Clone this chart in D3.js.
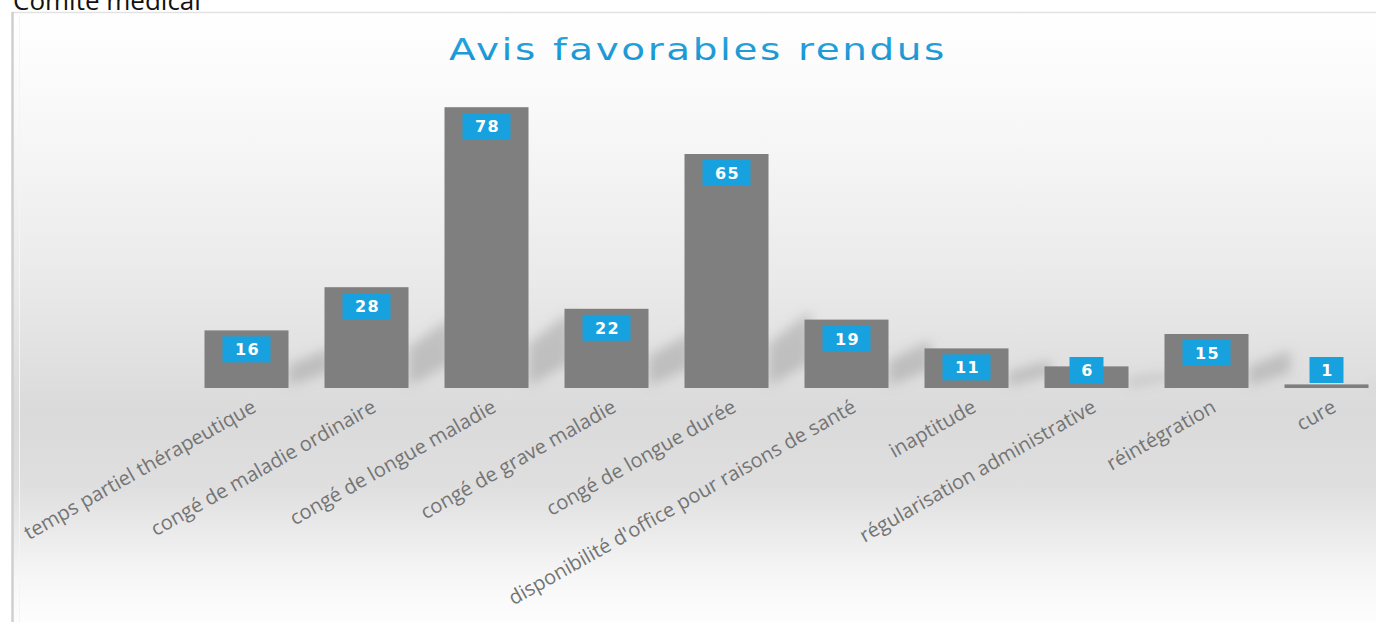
<!DOCTYPE html>
<html lang="fr">
<head>
<meta charset="utf-8">
<script src="https://cdn.jsdelivr.net/npm/d3@7"></script>
<style>
  html, body { margin: 0; padding: 0; background: #ffffff; }
  svg { display: block; }
</style>
</head>
<body>
<div id="chart"></div>
<script>
// Avis favorables rendus par catégorie
const categories = [
  "temps partiel thérapeutique",
  "congé de maladie ordinaire",
  "congé de longue maladie",
  "congé de grave maladie",
  "congé de longue durée",
  "disponibilité d'office pour raisons de santé",
  "inaptitude",
  "régularisation administrative",
  "réintégration",
  "cure"
];
const values = [16, 28, 78, 22, 65, 19, 11, 6, 15, 1];

const pageTitle = "Comité médical";
const chartTitle = "Avis favorables rendus";

const W = 1376, H = 630;
const svg = d3.select("#chart").append("svg")
  .attr("width", W).attr("height", H);

const defs = svg.append("defs");

// vertical background shading of the chart area
const bg = defs.append("linearGradient")
  .attr("id", "bgGrad").attr("x1", 0).attr("y1", 0).attr("x2", 0).attr("y2", 1);
[[0, "#ffffff"], [0.2, "#f7f7f7"], [0.45, "#e9e9e9"], [0.66, "#dadada"],
 [0.78, "#dfdfdf"], [0.93, "#f7f7f7"], [1, "#fdfdfd"]]
  .forEach(([o, c]) => bg.append("stop").attr("offset", o).attr("stop-color", c));

const titleGrad = defs.append("linearGradient")
  .attr("id", "titleGrad").attr("x1", 0).attr("y1", 0).attr("x2", 0).attr("y2", 1);
titleGrad.append("stop").attr("offset", 0).attr("stop-color", "#2aa8e4");
titleGrad.append("stop").attr("offset", 1).attr("stop-color", "#1690cc");

defs.append("filter").attr("id", "soft")
  .attr("x", "-50%").attr("y", "-50%").attr("width", "200%").attr("height", "200%")
  .append("feGaussianBlur").attr("stdDeviation", 6);

// page heading, partly above the top edge
svg.append("text")
  .attr("x", 13).attr("y", 10)
  .attr("font-family", "'Open Sans', sans-serif")
  .attr("font-size", 26)
  .attr("fill", "#111")
  .text(pageTitle);

// chart frame
const frame = { x: 12, y: 12, w: W - 12 + 10, h: 610 };
svg.append("rect")
  .attr("x", frame.x).attr("y", frame.y)
  .attr("width", frame.w).attr("height", frame.h)
  .attr("fill", "url(#bgGrad)");
svg.append("line")
  .attr("x1", frame.x).attr("x2", W).attr("y1", frame.y + 0.5).attr("y2", frame.y + 0.5)
  .attr("stroke", "#e2e2e2").attr("stroke-width", 1.5);
svg.append("line")
  .attr("x1", frame.x + 0.5).attr("x2", frame.x + 0.5).attr("y1", frame.y).attr("y2", frame.y + frame.h)
  .attr("stroke", "#cfcfcf").attr("stroke-width", 2.5);
svg.append("line")
  .attr("x1", 19.5).attr("x2", 19.5).attr("y1", frame.y + 4).attr("y2", frame.y + frame.h)
  .attr("stroke", "#f4f4f4").attr("stroke-width", 1);

// chart title
svg.append("text")
  .attr("x", 698).attr("y", 60)
  .attr("text-anchor", "middle")
  .attr("font-family", "'DejaVu Sans', Verdana, sans-serif")
  .attr("font-size", 30)
  .attr("letter-spacing", 2)
  .attr("textLength", 498)
  .attr("lengthAdjust", "spacingAndGlyphs")
  .attr("fill", "url(#titleGrad)")
  .text(chartTitle);

// scales
const base = 388;
const x = d3.scaleBand()
  .domain(categories)
  .range([186.5, 1386.5])
  .paddingInner(0.3)
  .paddingOuter(0.15);
const y = d3.scaleLinear().domain([0, 80]).range([base, base - 288]);

const data = categories.map((c, i) => ({ cat: c, v: values[i] }));

// soft cast shadows to the right of each bar
const shadowG = svg.append("g").attr("filter", "url(#soft)");
shadowG.selectAll("path").data(data).join("path")
  .attr("d", d => {
    const x1 = x(d.cat) + x.bandwidth();
    const h = base - y(d.v);
    const s = Math.min(h, 110) * 0.4;
    const rise = Math.min(h, 110) * 0.3;
    return `M${x1},${base - 2} L${x1},${base - s} L${x1 + 42},${base - s - rise} L${x1 + 42},${base - 6 - rise * 0.6} Z`;
  })
  .attr("fill", "#7a7a7a")
  .attr("opacity", 0.33);

// bars
svg.append("g").selectAll("rect").data(data).join("rect")
  .attr("x", d => x(d.cat))
  .attr("y", d => y(d.v))
  .attr("width", x.bandwidth())
  .attr("height", d => base - y(d.v))
  .attr("fill", "#7f7f7f");

// category axis
const axis = svg.append("g")
  .attr("transform", `translate(0,${base})`)
  .call(d3.axisBottom(x).tickSize(0).tickPadding(0));
axis.select(".domain").remove();
axis.selectAll(".tick text")
  .attr("x", 0).attr("y", 0).attr("dy", 0)
  .attr("text-anchor", "end")
  .attr("transform", "translate(11,23) rotate(-29.5)")
  .attr("font-family", "'Open Sans', sans-serif")
  .attr("font-size", 20)
  .attr("fill", "#747474");

// value labels in blue boxes
const boxH = 26;
const labels = svg.append("g").selectAll("g").data(data).join("g")
  .attr("transform", d => {
    const cx = x(d.cat) + x.bandwidth() / 2;
    const top = Math.min(y(d.v) + 6, base - 5 - boxH);
    return `translate(${cx},${top})`;
  });
labels.append("rect")
  .attr("x", d => -(String(d.v).length > 1 ? 24 : 17))
  .attr("width", d => String(d.v).length > 1 ? 48 : 34)
  .attr("height", boxH)
  .attr("fill", "#17a2df");
labels.append("text")
  .attr("x", 1).attr("y", boxH / 2 + 6)
  .attr("text-anchor", "middle")
  .attr("font-family", "'DejaVu Sans', Verdana, sans-serif")
  .attr("font-weight", "bold")
  .attr("font-size", 16)
  .attr("letter-spacing", 1.5)
  .attr("fill", "#ffffff")
  .text(d => d.v);
</script>
</body>
</html>
